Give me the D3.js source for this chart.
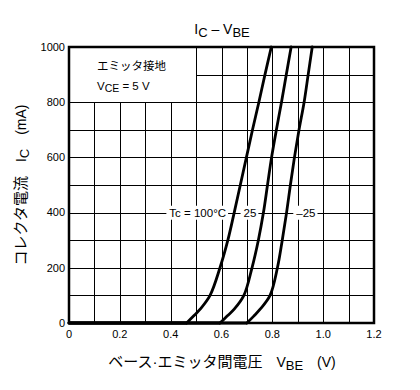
<!DOCTYPE html>
<meta charset="utf-8">
<style>
body { margin: 0; background: #fff; }
text { font-family: "Liberation Sans", Arial, "Noto Sans CJK JP", sans-serif; fill: #000; }
.grid line { stroke: #000; stroke-width: 1; shape-rendering: crispEdges; }
.curve { fill: none; stroke: #000; stroke-width: 2.8; stroke-linejoin: round; stroke-linecap: round; }
</style>
<svg width="420" height="390"></svg>
<script src="https://cdn.jsdelivr.net/npm/d3@7"></script>
<script>

// collector current steps (mA) and VBE (V) read for each case temperature
var currents = [0, 25, 50, 100, 200, 300, 400, 500, 600, 700, 800, 900, 1000];
var vbe100 = [0.463, 0.490, 0.516, 0.555, 0.594, 0.625, 0.650, 0.674, 0.698, 0.722, 0.747, 0.771, 0.796];
var vbe25  = [0.594, 0.622, 0.650, 0.688, 0.720, 0.745, 0.765, 0.781, 0.797, 0.816, 0.836, 0.855, 0.874];
var vbeM25 = [0.700, 0.727, 0.752, 0.791, 0.820, 0.839, 0.856, 0.871, 0.887, 0.905, 0.925, 0.941, 0.957];

var curveLabels = ["Tc = 100°C", "25", "\u201325"];

var xTicks = [0, 0.2, 0.4, 0.6, 0.8, 1.0, 1.2];
var xTickLabels = ["0", "0.2", "0.4", "0.6", "0.8", "1.0", "1.2"];
var yTicks = [0, 200, 400, 600, 800, 1000];

var svg = d3.select("svg");
var margin = {top: 47, right: 46, bottom: 67, left: 69};
var width = 420 - margin.left - margin.right;
var height = 390 - margin.top - margin.bottom;

var g = svg.append("g").attr("transform", "translate(" + margin.left + "," + margin.top + ")");

var x = d3.scaleLinear().domain([0, 1.2]).range([0, width]);
var y = d3.scaleLinear().domain([0, 1000]).range([height, 0]);

// grid: 0.1 V by 100 mA
var grid = g.append("g").attr("class", "grid");
grid.selectAll(".v").data(d3.range(1, 12).map(function(i) { return i / 10; }))
    .enter().append("line")
    .attr("x1", function(d) { return Math.round(x(d)) + 0.5; })
    .attr("x2", function(d) { return Math.round(x(d)) + 0.5; })
    .attr("y1", 0).attr("y2", height);
grid.selectAll(".h").data(d3.range(1, 10).map(function(i) { return i * 100; }))
    .enter().append("line")
    .attr("y1", function(d) { return Math.round(y(d)) + 0.5; })
    .attr("y2", function(d) { return Math.round(y(d)) + 0.5; })
    .attr("x1", 0).attr("x2", width);

// blank corner for the condition note
g.append("rect")
    .attr("x", x(0) + 1)
    .attr("y", y(1000) + 1)
    .attr("width", Math.round(x(0.5)) - 1)
    .attr("height", Math.round(y(800)) - 1)
    .attr("fill", "#fff");

var note = g.append("g").attr("transform", "translate(28,0)");
note.append("text").attr("y", 23).attr("font-size", 11.5).text("エミッタ接地");
var vce = note.append("text").attr("y", 43).attr("font-size", 11.5);
vce.append("tspan").text("V");
vce.append("tspan").attr("dy", 2).attr("font-size", 10.5).text("CE");
vce.append("tspan").attr("dy", -2).text(" = 5 V");

// curves: flat along the axis up to the knee, then a smooth rise
var line = d3.line()
    .x(function(d) { return x(d[0]); })
    .y(function(d) { return y(d[1]); })
    .curve(d3.curveCatmullRom.alpha(0.5));

[vbe100, vbe25, vbeM25].forEach(function(v) {
    var pts = v.map(function(d, i) { return [d, currents[i]]; });
    g.append("path").datum([[0, 0], pts[0]]).attr("class", "curve").attr("d", d3.line()
        .x(function(d) { return x(d[0]); })
        .y(function(d) { return y(d[1]); }));
    g.append("path").datum(pts).attr("class", "curve").attr("d", line);
});

// temperature labels on the 400 mA line, with white boxes behind
var labelPos = [{v: 0.618, anchor: "end"}, {v: 0.712, anchor: "middle"}, {v: 0.932, anchor: "middle"}];
curveLabels.forEach(function(t, i) {
    var lg = g.append("g");
    var txt = lg.append("text")
        .attr("x", x(labelPos[i].v))
        .attr("y", y(400))
        .attr("dy", "0.36em")
        .attr("text-anchor", labelPos[i].anchor)
        .attr("font-size", 11.5)
        .text(t);
    var b = txt.node().getBBox();
    lg.insert("rect", "text")
        .attr("x", b.x - 3).attr("y", b.y - 1)
        .attr("width", b.width + 5).attr("height", b.height + 2)
        .attr("fill", "#fff");
});

// frame
g.append("rect")
    .attr("width", width).attr("height", height)
    .attr("fill", "none").attr("stroke", "#000").attr("stroke-width", 2.5);

// tick labels
g.selectAll(".yt").data(yTicks).enter().append("text")
    .attr("x", -4).attr("y", function(d) { return y(d); })
    .attr("dy", "0.35em")
    .attr("text-anchor", "end")
    .attr("font-size", 11)
    .text(function(d) { return d; });

g.selectAll(".xt").data(xTicks).enter().append("text")
    .attr("x", function(d) { return x(d); })
    .attr("y", height + 15)
    .attr("text-anchor", "middle")
    .attr("font-size", 11)
    .text(function(d, i) { return xTickLabels[i]; });

// title
var title = svg.append("text").attr("x", 222).attr("y", 34).attr("text-anchor", "middle").attr("font-size", 14);
title.append("tspan").text("I");
title.append("tspan").attr("dy", 3).attr("font-size", 13).text("C");
title.append("tspan").attr("dy", -3).text(" \u2013 V");
title.append("tspan").attr("dy", 3).attr("font-size", 13).text("BE");

// x axis title
var xt = svg.append("text").attr("x", 222).attr("y", 367).attr("text-anchor", "middle").attr("font-size", 14);
xt.append("tspan").attr("font-size", 15).text("ベース·エミッタ間電圧");
xt.append("tspan").text("\u3000V");
xt.append("tspan").attr("dy", 3).attr("font-size", 13).text("BE");
xt.append("tspan").attr("dy", -3).text("\u3000(V)");

// y axis title
var yt = svg.append("text")
    .attr("transform", "translate(26,185) rotate(-90)")
    .attr("text-anchor", "middle").attr("font-size", 14);
yt.append("tspan").attr("font-size", 15).text("コレクタ電流");
yt.append("tspan").text("\u3000I");
yt.append("tspan").attr("dy", 3).attr("font-size", 13).text("C");
yt.append("tspan").attr("dy", -3).text("\u3000(mA)");

</script>
